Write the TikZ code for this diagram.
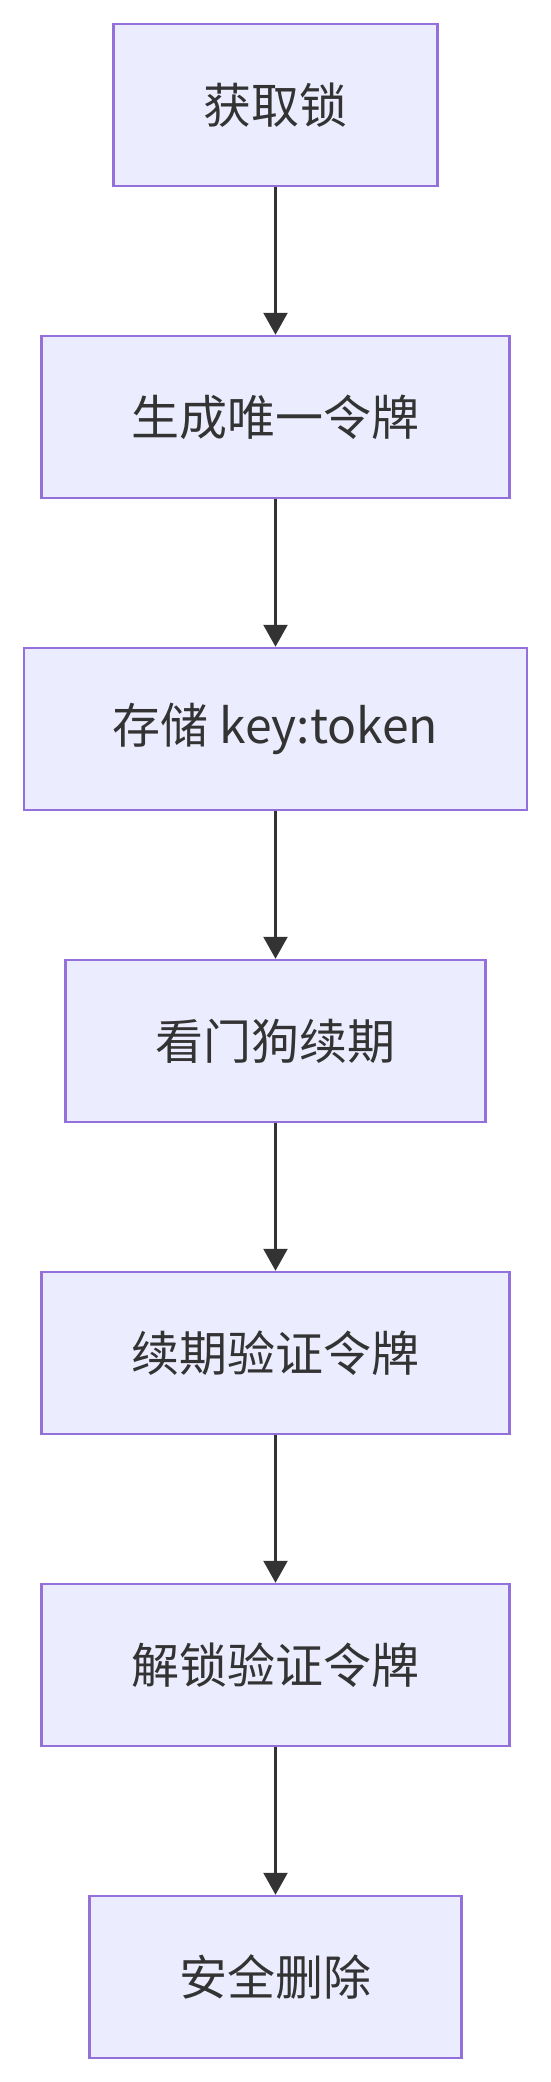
\documentclass[tikz,border=0pt]{standalone}
\usepackage{fontspec}
\setmainfont{Noto Sans CJK SC}
\usepackage{xcolor}
\usetikzlibrary{arrows.meta}
\definecolor{nodeFill}{HTML}{ECECFF}
\definecolor{nodeLine}{HTML}{9370DB}
\definecolor{inkGray}{HTML}{333333}

\begin{document}
\begin{tikzpicture}[x=1pt,y=-1pt,
  font=\fontsize{48}{58}\selectfont,
  >={Triangle[length=22pt,width=24pt]},
  stage/.style={draw=nodeLine,line width=2.5pt,fill=nodeFill,text=inkGray,
    minimum height=162pt,inner sep=0pt},
  flow/.style={->,draw=inkGray,fill=inkGray,line width=2.5pt}]
\useasboundingbox (0,0) rectangle (551,2082);
\node[stage,minimum width=324pt] (acquire) at (275.5,105) {获取锁};
\node[stage,minimum width=468pt] (gentoken) at (275.5,417) {生成唯一令牌};
\node[stage,minimum width=503pt] (store) at (275.5,729) {存储 key:token};
\node[stage,minimum width=420pt] (watchdog) at (275.5,1041) {看门狗续期};
\node[stage,minimum width=468pt] (renewcheck) at (275.5,1353) {续期验证令牌};
\node[stage,minimum width=468pt] (unlockcheck) at (275.5,1665) {解锁验证令牌};
\node[stage,minimum width=372pt] (delete) at (275.5,1977) {安全删除};
\draw[flow] (acquire) -- (gentoken);
\draw[flow] (gentoken) -- (store);
\draw[flow] (store) -- (watchdog);
\draw[flow] (watchdog) -- (renewcheck);
\draw[flow] (renewcheck) -- (unlockcheck);
\draw[flow] (unlockcheck) -- (delete);
\end{tikzpicture}
\end{document}
